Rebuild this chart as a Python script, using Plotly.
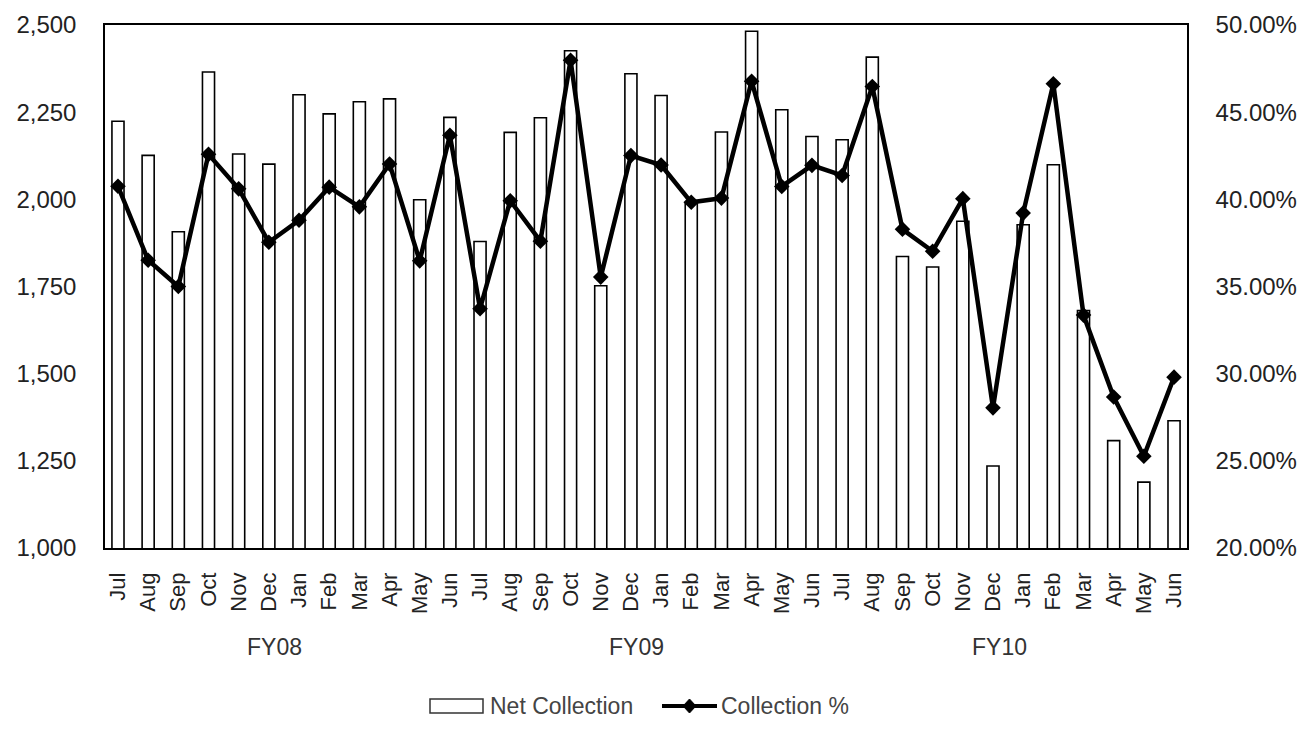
import plotly.graph_objects as go

months = ["Jul", "Aug", "Sep", "Oct", "Nov", "Dec", "Jan", "Feb", "Mar", "Apr", "May", "Jun"] * 3
fiscal_years = ["FY08", "FY09", "FY10"]
net_collection = [2224, 2126, 1907, 2365, 2130, 2101, 2300, 2245, 2280, 2288, 1999, 2235,
                  1879, 2192, 2234, 2426, 1752, 2360, 2298, 1990, 2193, 2482, 2257, 2180,
                  2171, 2408, 1836, 1806, 1937, 1235, 1927, 2099, 1681, 1308, 1189, 1365]
collection_pct = [40.75, 36.51, 35.00, 42.58, 40.60, 37.54, 38.80, 40.70, 39.57, 42.03, 36.47, 43.68,
                  33.73, 39.92, 37.60, 47.98, 35.54, 42.51, 41.97, 39.83, 40.07, 46.77, 40.74, 41.95,
                  41.37, 46.47, 38.28, 37.02, 40.04, 28.04, 39.21, 46.63, 33.36, 28.66, 25.26, 29.80]
left_ticks = [1000, 1250, 1500, 1750, 2000, 2250, 2500]
right_ticks = [20, 25, 30, 35, 40, 45, 50]
legend_names = ["Net Collection", "Collection %"]

x = list(range(len(months)))
FONT = "Liberation Sans, Arial, sans-serif"

# the page body has an 8px margin; size the figure so it fits the 1309x729 window
OFF = 8
W, H = 1309 - 2 * OFF, 729 - 2 * OFF
# desired plot box in window pixels: left 105, right 1187, top 25, bottom 548
ML, MT = 105 - OFF, 25 - OFF
MR = W - (1187 - OFF)
MB = H - (548 - OFF)
PW, PH = W - ML - MR, H - MT - MB


def px(v):  # window pixel x -> paper x
    return (v - OFF - ML) / PW


def py(v):  # window pixel y -> paper y
    return (H - MB - (v - OFF)) / PH


fig = go.Figure()
fig.add_trace(go.Bar(
    x=x, y=net_collection, name=legend_names[0], showlegend=False,
    marker=dict(color="white", line=dict(color="black", width=1.6)),
))
fig.add_trace(go.Scatter(
    x=x, y=collection_pct, name=legend_names[1], yaxis="y2", showlegend=False,
    mode="lines+markers",
    line=dict(color="black", width=4.5),
    marker=dict(symbol="diamond", size=12, color="black"),
))

annotations = []
for i, fy in enumerate(fiscal_years):
    annotations.append(dict(
        x=i * 12 + 5.2, y=py(647), xref="x", yref="paper", text=fy, showarrow=False,
        font=dict(family=FONT, size=23, color="#333"), yanchor="middle",
    ))

# manual legend (wide rectangle swatch like the original)
ly = 706
shapes = [
    dict(type="rect", xref="paper", yref="paper", x0=px(430), x1=px(483), y0=py(ly + 7), y1=py(ly - 7),
         line=dict(color="#333", width=1.5), fillcolor="white"),
    dict(type="line", xref="paper", yref="paper", x0=px(662), x1=px(717), y0=py(ly), y1=py(ly),
         line=dict(color="black", width=4)),
    dict(type="path", xref="paper", yref="paper",
         path=f"M {px(683)},{py(ly)} L {px(689.5)},{py(ly-7)} L {px(696)},{py(ly)} L {px(689.5)},{py(ly+7)} Z",
         line=dict(color="black", width=1), fillcolor="black"),
]
annotations.append(dict(x=px(488), y=py(ly), xref="paper", yref="paper", text=legend_names[0],
                        showarrow=False, xanchor="left", yanchor="middle",
                        font=dict(family=FONT, size=23, color="#444")))
annotations.append(dict(x=px(719), y=py(ly), xref="paper", yref="paper", text=legend_names[1],
                        showarrow=False, xanchor="left", yanchor="middle",
                        font=dict(family=FONT, size=23, color="#444")))

fig.update_layout(
    width=W, height=H,
    margin=dict(l=ML, r=MR, t=MT, b=MB, autoexpand=False),
    plot_bgcolor="white", paper_bgcolor="white",
    bargap=0.6,
    showlegend=False,
    xaxis=dict(
        tickmode="array", tickvals=x, ticktext=months, tickangle=-90,
        range=[-0.43, len(x) - 0.57],
        showline=True, linecolor="black", linewidth=1.5, mirror=True,
        showgrid=False, zeroline=False, ticks="",
        ticklabelstandoff=14,
        tickfont=dict(family=FONT, size=22, color="#222"),
    ),
    yaxis=dict(
        range=[1000, 2500], tickvals=left_ticks, tickformat=",",
        showline=True, linecolor="black", linewidth=1.5, mirror=True,
        showgrid=False, zeroline=False, ticks="",
        ticklabelstandoff=22,
        tickfont=dict(family=FONT, size=24, color="#222"),
    ),
    yaxis2=dict(
        overlaying="y", side="right", range=[20, 50], tickvals=right_ticks,
        ticktext=[f"{v:.2f}%" for v in right_ticks],
        showline=True, linecolor="black", linewidth=1.5,
        showgrid=False, zeroline=False, ticks="",
        ticklabelstandoff=22,
        tickfont=dict(family=FONT, size=24, color="#222"),
    ),
    annotations=annotations,
    shapes=shapes,
)

fig.write_html("out.html")
